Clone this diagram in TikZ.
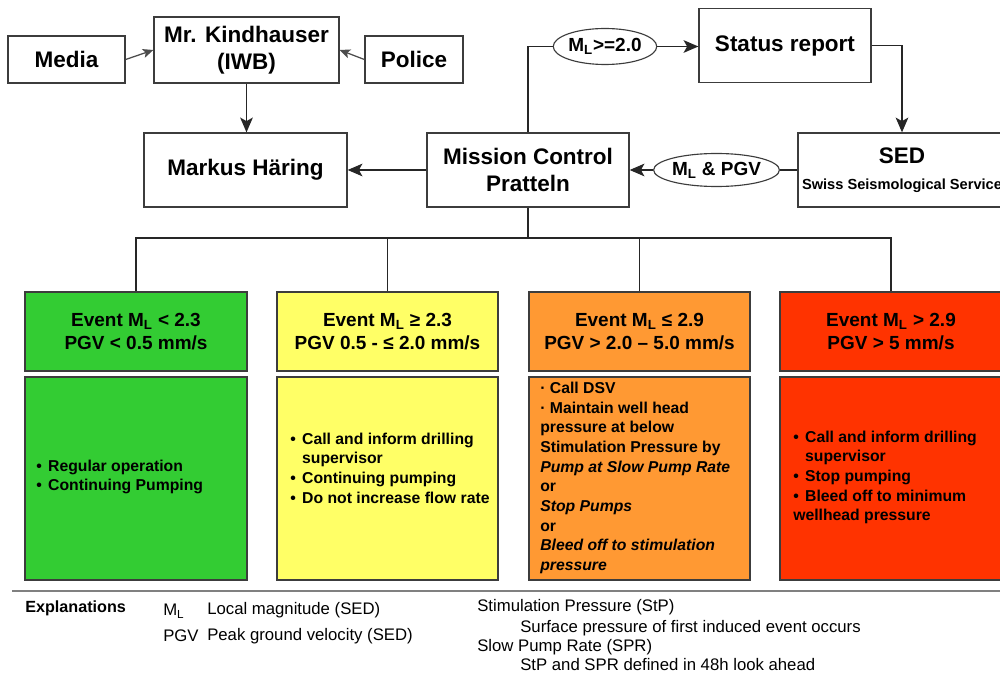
\documentclass[tikz,border=0pt]{standalone}
\usepackage{fontspec}
\setmainfont{Liberation Sans}
\usetikzlibrary{arrows.meta,shapes.geometric}
\definecolor{cgreen}{RGB}{51,204,51}
\definecolor{cyellow}{RGB}{255,255,102}
\definecolor{corange}{RGB}{255,153,51}
\definecolor{cred}{RGB}{255,51,0}
\definecolor{edge}{RGB}{60,60,60}
\newcommand{\bu}{\makebox[8.5pt][l]{•}}
\begin{document}
\begin{tikzpicture}[x=0.025cm,y=-0.025cm,
  box/.style={draw=edge, line width=0.9pt, fill=white, inner sep=0pt, align=center,
    font=\bfseries\fontsize{16}{19.5}\selectfont},
  oval/.style={ellipse, draw=edge, line width=0.8pt, fill=white, inner sep=0pt,
    font=\bfseries\fontsize{13.5}{16}\selectfont},
  hdr/.style={draw=edge, line width=1.2pt, inner sep=0pt, align=center,
    minimum height=1.975cm, font=\bfseries\fontsize{13.5}{16.3}\selectfont},
  bodybox/.style={draw=edge, line width=1.2pt, inner sep=0pt, minimum height=5.075cm},
  btxt/.style={inner sep=0pt, align=left, font=\bfseries\fontsize{11.2}{14}\selectfont},
  expl/.style={inner sep=0pt, anchor=west, font=\fontsize{11.9}{13}\selectfont},
  conn/.style={draw=black!85, line width=0.9pt},
  arr/.style={conn, -{Stealth[length=10.5pt,width=9pt,inset=2.5pt]}},
  sarr/.style={conn, draw=black!70, -{Stealth[length=7.5pt,width=6.5pt,inset=1.8pt]}}
]
\useasboundingbox (0,0) rectangle (1000,676);
\clip (0,0) rectangle (1000,676);

% top nodes
\node[box, minimum width=2.925cm, minimum height=1.175cm] (media) at (66.5,59.5) {Media};
\node[box, minimum width=4.625cm, minimum height=1.65cm] (kind) at (246.5,50) {Mr. Kindhauser\\(IWB)};
\node[box, minimum width=2.45cm, minimum height=1.175cm] (police) at (414,59.5) {Police};
\node[box, minimum width=5.075cm, minimum height=1.85cm] (markus) at (245.5,170) {Markus Häring};
\node[box, minimum width=5.05cm, minimum height=1.85cm] (mission) at (528,170) {Mission Control\\Pratteln};
\node[box, minimum width=4.3cm, minimum height=1.85cm] (status) at (785,45.5) {Status report};
\node[box, minimum width=5.2cm, minimum height=1.85cm] (sed) at (902,170)
  {SED\\[-1pt]{\fontsize{10.4}{12}\selectfont Swiss Seismological Service}};
\node[oval, minimum width=2.35cm, minimum height=0.9cm] (e1) at (605,46.5) {M\textsubscript{L}>=2.0};
\node[oval, minimum width=2.975cm, minimum height=0.825cm] (e2) at (716.5,170) {M\textsubscript{L} \& PGV};

% connectors top
\draw[sarr] (media.east) -- (kind.west);
\draw[sarr] (police.west) -- (kind.east);
\draw[arr] (kind.south) -- (kind.south |- markus.north);
\draw[arr] (mission.west) -- (markus.east);
\draw[conn] (mission.north) |- (e1.west);
\draw[arr] (e1.east) -- (e1.east -| status.west);
\draw[arr] (status.east) -| (sed.north);
\draw[conn] (sed.west) -- (e2.east);
\draw[arr] (e2.west) -- (mission.east);

% header boxes
\node[hdr, fill=cgreen, minimum width=5.55cm] (h1) at (136,331.5) {Event M\textsubscript{L} < 2.3\\PGV < 0.5 mm/s};
\node[hdr, fill=cyellow, minimum width=5.525cm] (h2) at (387.5,331.5) {Event M\textsubscript{L} ≥ 2.3\\PGV 0.5 - ≤ 2.0 mm/s};
\node[hdr, fill=corange, minimum width=5.525cm] (h3) at (639.5,331.5) {Event M\textsubscript{L} ≤ 2.9\\PGV > 2.0 – 5.0 mm/s};
\node[hdr, fill=cred, minimum width=5.55cm] (h4) at (891,331.5) {Event M\textsubscript{L} > 2.9\\PGV > 5 mm/s};

% body boxes
\node[bodybox, fill=cgreen, minimum width=5.55cm] (b1) at (136,478.5) {};
\node[bodybox, fill=cyellow, minimum width=5.525cm] (b2) at (387.5,478.5) {};
\node[bodybox, fill=corange, minimum width=5.525cm] (b3) at (639.5,478.5) {};
\node[bodybox, fill=cred, minimum width=5.55cm] (b4) at (891,478.5) {};

% bus
\coordinate (bus) at (528,238);
\draw[conn] (mission.south) -- (bus);
\draw[conn] (h1.north) |- (bus) -| (h4.north);
\draw[conn] (h2.north) -- (h2.north |- bus);
\draw[conn] (h3.north) -- (h3.north |- bus);

% body texts
\node[btxt, anchor=west] (t1) at (36,477) {\bu Regular operation\\\bu Continuing Pumping};
\node[btxt, anchor=west] (t2) at (290,468) {\bu Call and inform drilling\\\phantom{\bu}supervisor\\\bu Continuing pumping\\\bu Do not increase flow rate};
\node[btxt, anchor=west] (t3) at (540,478) {· Call DSV\\· Maintain well head\\pressure at below\\Stimulation Pressure by\\\textit{Pump at Slow Pump Rate}\\or\\\textit{Stop Pumps}\\or\\\textit{Bleed off to stimulation}\\\textit{pressure}};
\node[btxt, anchor=west] (t4) at (793,477.5) {\bu Call and inform drilling\\\phantom{\bu}supervisor\\\bu Stop pumping\\\bu Bleed off to minimum\\wellhead pressure};

% explanations
\draw[line width=2pt, draw=black!50] (12,591) -- (1000,591);
\node[expl, font=\bfseries\fontsize{11.5}{13}\selectfont] (ex) at (25,608) {Explanations};
\node[expl] (ml) at (163,611) {M\textsubscript{L}};
\node[expl] (mlt) at (207,610) {Local magnitude (SED)};
\node[expl] (pgv) at (163,636) {PGV};
\node[expl] (pgvt) at (207,636) {Peak ground velocity (SED)};
\node[expl] (stp) at (477,607) {Stimulation Pressure (StP)};
\node[expl] (stpt) at (520,628) {Surface pressure of first induced event occurs};
\node[expl] (spr) at (477,647) {Slow Pump Rate (SPR)};
\node[expl] (sprt) at (520,665) {StP and SPR defined in 48h look ahead};
\end{tikzpicture}
\end{document}
